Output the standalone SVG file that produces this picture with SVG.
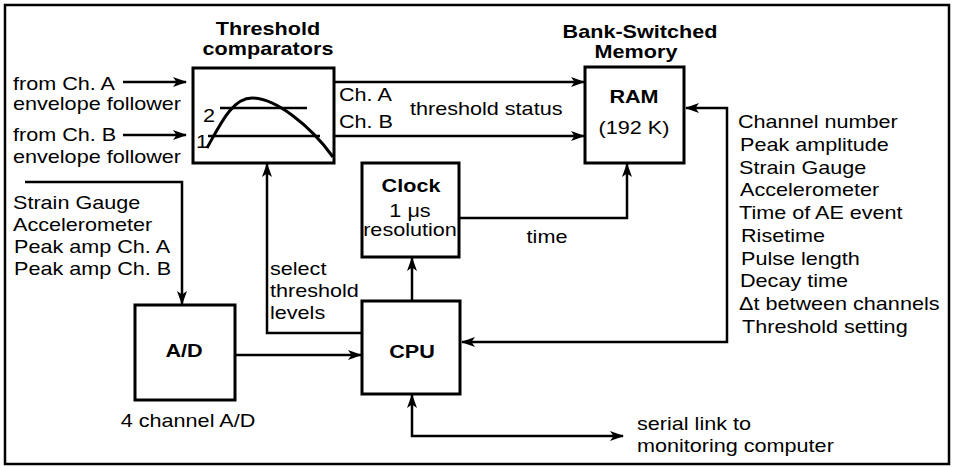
<svg xmlns="http://www.w3.org/2000/svg" width="953" height="467" viewBox="0 0 953 467">
<style>
text{font-family:"Liberation Sans",Arial,Helvetica,sans-serif;font-size:18px;fill:#000}
.b{font-weight:bold}
.m{text-anchor:middle}
.box{fill:none;stroke:#000;stroke-width:3}
.ln{fill:none;stroke:#000;stroke-width:2.5}
.ar{marker-end:url(#ah)}
.ar2{marker-start:url(#ah);marker-end:url(#ah)}
</style>
<defs>
<marker id="ah" viewBox="0 0 14 10" refX="13" refY="5" markerWidth="14" markerHeight="10" markerUnits="userSpaceOnUse" orient="auto-start-reverse">
<path d="M0,0 L14,5 L0,10 L3.5,5 Z" fill="#000"/>
</marker>
</defs>
<rect x="5" y="5" width="944" height="459" fill="#fff" stroke="#000" stroke-width="2.5"/>

<g id="connectors">
<path class="ln ar" d="M123,82 H186"/>
<path class="ln ar" d="M123,135 H186"/>
<path class="ln ar" d="M334,82 H584"/>
<path class="ln ar" d="M334,136 H584"/>
<path class="ln ar" d="M459,218 H627 V164"/>
<path class="ln ar" d="M412,301 V258"/>
<path class="ln ar" d="M235,355 H361"/>
<path class="ln ar" d="M362,333 H267 V164"/>
<path class="ln ar2" d="M686,108 H727 V342 H462"/>
<path class="ln ar2" d="M412,395 V436 H623"/>
<path class="ln ar" d="M25,182 H182 V304"/>
</g>

<g id="inputs">
<text transform="matrix(1.2 0 0 1 13 90)">from Ch. A</text>
<text transform="matrix(1.2 0 0 1 13 110)">envelope follower</text>
<text transform="matrix(1.2 0 0 1 13 141)">from Ch. B</text>
<text transform="matrix(1.2 0 0 1 13 163)">envelope follower</text>
<text transform="matrix(1.2 0 0 1 13 209)">Strain Gauge</text>
<text transform="matrix(1.2 0 0 1 13 231)">Accelerometer</text>
<text transform="matrix(1.2 0 0 1 14 253)">Peak amp Ch. A</text>
<text transform="matrix(1.2 0 0 1 14 275)">Peak amp Ch. B</text>
</g>

<g id="threshold-comparators">
<text class="b m" transform="matrix(1.2 0 0 1 268 35)">Threshold</text>
<text class="b m" transform="matrix(1.2 0 0 1 268 55)">comparators</text>
<rect class="box" x="193" y="68" width="141" height="95"/>
<line class="ln" x1="220" y1="108" x2="307" y2="108"/>
<line class="ln" x1="208" y1="136" x2="320" y2="136"/>
<path fill="none" stroke="#000" stroke-width="3" d="M207,148 C220,125 232,98 252,98 C275,98 310,125 333,157"/>
<text transform="matrix(1.2 0 0 1 203 122)">2</text>
<text transform="matrix(1.2 0 0 1 196 148)">1</text>
<text transform="matrix(1.2 0 0 1 339 101)">Ch. A</text>
<text transform="matrix(1.2 0 0 1 339 128)">Ch. B</text>
<text transform="matrix(1.2 0 0 1 410 115)">threshold status</text>
</g>

<g id="ram">
<text class="b m" transform="matrix(1.2 0 0 1 640 38)">Bank-Switched</text>
<text class="b m" transform="matrix(1.2 0 0 1 636 58)">Memory</text>
<rect class="box" x="585" y="67" width="99" height="96"/>
<text class="b m" transform="matrix(1.2 0 0 1 634 103)">RAM</text>
<text class="m" transform="matrix(1.2 0 0 1 634 134)">(192 K)</text>
</g>

<g id="clock">
<rect class="box" x="362" y="163" width="97" height="94"/>
<text class="b m" transform="matrix(1.2 0 0 1 411 192)">Clock</text>
<text class="m" transform="matrix(1.2 0 0 1 410 217)">1 μs</text>
<text class="m" transform="matrix(1.2 0 0 1 410 236)">resolution</text>
<text class="m" transform="matrix(1.2 0 0 1 547 243)">time</text>
</g>

<g id="cpu">
<rect class="box" x="362" y="301" width="98" height="93"/>
<text class="b m" transform="matrix(1.2 0 0 1 412 358)">CPU</text>
<text transform="matrix(1.2 0 0 1 270 275)">select</text>
<text transform="matrix(1.2 0 0 1 270 297)">threshold</text>
<text transform="matrix(1.2 0 0 1 270 319)">levels</text>
</g>

<g id="ad">
<rect class="box" x="135" y="305" width="100" height="95"/>
<text class="b m" transform="matrix(1.2 0 0 1 184 357)">A/D</text>
<text class="m" transform="matrix(1.2 0 0 1 188 427)">4 channel A/D</text>
</g>

<g id="data-list">
<text transform="matrix(1.2 0 0 1 738 128)">Channel number</text>
<text transform="matrix(1.2 0 0 1 740 151)">Peak amplitude</text>
<text transform="matrix(1.2 0 0 1 739 174)">Strain Gauge</text>
<text transform="matrix(1.2 0 0 1 740 196)">Accelerometer</text>
<text transform="matrix(1.2 0 0 1 739 219)">Time of AE event</text>
<text transform="matrix(1.2 0 0 1 741 242)">Risetime</text>
<text transform="matrix(1.2 0 0 1 741 265)">Pulse length</text>
<text transform="matrix(1.2 0 0 1 740 287)">Decay time</text>
<text transform="matrix(1.2 0 0 1 739 310)">Δt between channels</text>
<text transform="matrix(1.2 0 0 1 742 333)">Threshold setting</text>
</g>

<g id="serial-link">
<text transform="matrix(1.2 0 0 1 637 430)">serial link to</text>
<text transform="matrix(1.2 0 0 1 637 452)">monitoring computer</text>
</g>
</svg>
